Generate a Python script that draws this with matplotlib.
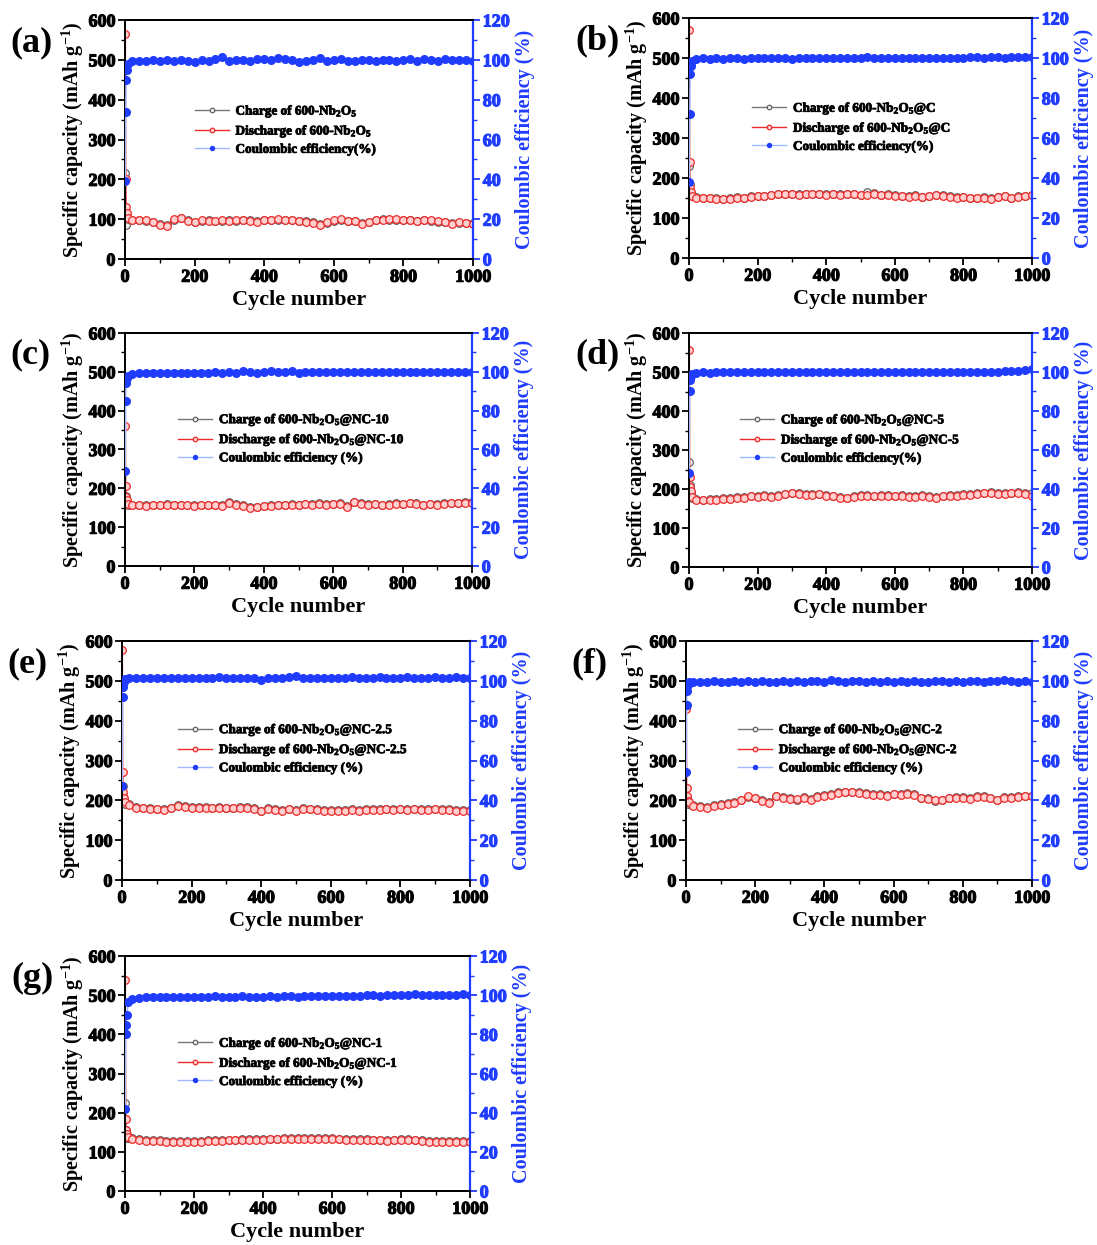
import matplotlib.pyplot as plt
import matplotlib.patheffects as pe
from matplotlib.ticker import MultipleLocator

plt.rcParams['font.family'] = ['Liberation Serif', 'DejaVu Serif']
plt.rcParams['font.weight'] = 'bold'
plt.rcParams['axes.labelweight'] = 'bold'
plt.rcParams['mathtext.fontset'] = 'custom'
plt.rcParams['mathtext.rm'] = 'Liberation Serif:bold'
plt.rcParams['mathtext.bf'] = 'Liberation Serif:bold'
plt.rcParams['mathtext.default'] = 'rm'

# cycle numbers at which values were sampled
cycles = [1, 2, 3, 5, 10] + list(range(20, 1001, 20))

# (a) 600-Nb2O5
dis_a = [565, 200, 130, 115, 102,
         99, 98, 97, 92, 86, 84, 100, 104, 96, 93,
         97, 96, 95, 97, 96, 97, 98, 96, 94, 99,
         98, 100, 99, 97, 96, 94, 91, 86, 92, 97,
         100, 95, 96, 89, 94, 98, 99, 100, 100, 99,
         98, 95, 98, 97, 95, 92, 89, 92, 91, 89]
chg_a = [215, 85, 110, 105, 100,
         98, 97, 96, 93, 87, 85, 99, 103, 97, 94,
         96, 97, 96, 96, 97, 96, 97, 97, 95, 98,
         99, 99, 98, 97, 95, 95, 92, 87, 91, 96,
         99, 96, 95, 90, 93, 97, 100, 99, 99, 98,
         97, 96, 97, 96, 94, 93, 90, 91, 90, 90]
ce_a = [39, 74, 90, 95, 98,
        99.2, 99.6, 99.4, 99.8, 99.5, 100.1, 99.3, 99.7, 99.6, 99.0,
        99.8, 99.5, 100.4, 101.2, 99.6, 99.8, 100.0, 99.4, 100.5, 100.6,
        99.7, 100.8, 100.3, 99.9, 99.1, 99.6, 99.8, 100.7, 99.3, 99.9,
        100.2, 99.6, 99.5, 99.8, 99.7, 99.6, 99.9, 99.7, 99.6, 100.1,
        100.4, 99.5, 100.6, 99.8, 99.6, 100.2, 99.7, 100.1, 99.8, 99.6]

# (b) 600-Nb2O5@C
dis_b = [570, 240, 175, 165, 155,
         151, 150, 149, 148, 147, 148, 151, 150, 153, 154,
         155, 157, 159, 160, 159, 158, 159, 160, 159, 158,
         159, 158, 160, 159, 157, 158, 161, 157, 158, 156,
         154, 153, 156, 152, 155, 157, 156, 153, 151, 152,
         149, 150, 151, 148, 152, 154, 150, 153, 155, 157]
chg_b = [230, 185, 170, 162, 154,
         152, 151, 150, 149, 148, 149, 152, 151, 154, 155,
         156, 158, 160, 161, 160, 159, 160, 161, 160, 159,
         160, 159, 161, 160, 158, 165, 162, 158, 159, 157,
         155, 154, 157, 153, 156, 158, 157, 154, 152, 153,
         150, 151, 152, 149, 153, 155, 151, 154, 156, 158]
ce_b = [38, 72, 92, 96, 98.5,
        99.6, 99.8, 99.7, 99.9, 99.6, 99.8, 100.0, 99.7, 99.9, 99.8,
        100.1, 99.8, 99.9, 100.0, 99.7, 99.9, 100.1, 99.8, 100.0, 99.9,
        100.2, 99.9, 100.0, 99.8, 100.1, 100.3, 99.9, 100.0, 99.8, 100.1,
        100.0, 99.9, 100.2, 100.0, 99.9, 100.1, 100.0, 100.2, 99.9, 100.1,
        100.3, 100.4, 100.2, 100.6, 100.3, 100.2, 100.4, 100.3, 100.5, 100.4]

# (c) 600-Nb2O5@NC-10
dis_c = [360, 205, 178, 170, 160,
         157, 156, 155, 156, 157, 158, 157, 156, 156, 155,
         156, 157, 156, 155, 163, 158, 155, 150, 152, 154,
         155, 157, 156, 158, 157, 159, 158, 160, 158, 159,
         160, 152, 164, 160, 158, 159, 157, 158, 160, 159,
         161, 160, 157, 159, 158, 160, 161, 162, 163, 163]
chg_c = [175, 180, 172, 167, 158,
         158, 157, 156, 157, 158, 159, 158, 157, 157, 156,
         157, 158, 157, 157, 164, 159, 156, 152, 153, 155,
         156, 158, 157, 159, 158, 160, 159, 161, 159, 160,
         161, 154, 165, 161, 159, 160, 158, 159, 161, 160,
         162, 161, 158, 160, 159, 161, 162, 163, 164, 164]
ce_c = [49, 85, 94, 97, 98.0,
        98.9, 99.3, 99.4, 99.5, 99.3, 99.6, 99.4, 99.5, 99.3, 99.6,
        99.5, 99.4, 99.7, 99.5, 99.8, 99.6, 100.3, 99.7, 99.5, 99.8,
        100.5, 99.9, 99.7, 100.2, 99.6, 99.8, 99.9, 100.1, 99.7, 99.9,
        100.0, 99.8, 100.1, 99.9, 99.7, 100.0, 99.9, 100.1, 99.8, 100.0,
        99.9, 100.1, 99.9, 100.0, 100.1, 99.9, 100.0, 100.1, 99.9, 100.0]

# (d) 600-Nb2O5@NC-5
dis_d = [556, 230, 205, 195, 180,
         173, 171, 172, 173, 174, 175, 177, 178, 181, 179,
         182, 180, 183, 186, 189, 187, 185, 184, 186, 183,
         181, 178, 176, 180, 182, 183, 181, 182, 183, 181,
         182, 180, 179, 182, 180, 178, 181, 182, 183, 184,
         185, 187, 189, 190, 187, 188, 189, 190, 187, 182]
chg_d = [270, 210, 198, 190, 178,
         175, 173, 174, 175, 176, 177, 179, 180, 183, 181,
         184, 182, 185, 188, 191, 189, 187, 186, 188, 185,
         183, 180, 178, 182, 184, 185, 183, 184, 185, 183,
         184, 182, 181, 184, 182, 180, 183, 184, 185, 186,
         187, 189, 191, 192, 189, 190, 191, 192, 190, 191]
ce_d = [48, 90, 96, 98, 99.2,
        99.6, 99.8, 99.7, 99.9, 99.8, 100.0, 99.8, 99.9, 99.8, 100.0,
        99.9, 99.8, 100.0, 99.9, 99.8, 100.0, 99.9, 100.1, 99.9, 99.8,
        100.0, 99.9, 100.0, 99.8, 99.9, 100.0, 99.9, 99.8, 100.0, 99.9,
        100.0, 99.9, 99.8, 100.0, 99.9, 100.1, 99.9, 100.0, 99.9, 100.0,
        100.1, 99.9, 100.0, 100.2, 100.1, 100.3, 100.4, 100.6, 100.9, 101.3]

# (e) 600-Nb2O5@NC-2.5
dis_e = [577, 270, 220, 205, 195,
         188, 182, 180, 178, 177, 176, 180, 186, 184, 181,
         182, 181, 180, 181, 180, 180, 181, 181, 179, 172,
         178, 176, 174, 177, 173, 178, 177, 175, 174, 174,
         173, 174, 175, 174, 175, 176, 176, 177, 176, 177,
         176, 177, 176, 176, 177, 176, 175, 174, 174, 173]
chg_e = [270, 235, 210, 200, 192,
         190, 184, 182, 180, 179, 178, 182, 188, 186, 183,
         184, 183, 182, 183, 182, 182, 183, 183, 181, 174,
         180, 178, 176, 179, 175, 180, 179, 177, 176, 176,
         175, 176, 177, 176, 177, 178, 178, 179, 178, 179,
         178, 179, 178, 178, 179, 178, 177, 176, 176, 175]
ce_e = [47, 92, 97, 99.5, 100.8,
        101.2, 101.4, 101.3, 101.5, 101.4, 101.6, 101.5, 101.4, 101.6, 101.5,
        101.4, 101.6, 101.5, 101.7, 101.5, 101.6, 101.4, 101.5, 101.3, 100.4,
        101.5, 101.6, 101.5, 101.7, 102.4, 101.6, 101.5, 101.6, 101.4, 101.5,
        101.6, 101.5, 101.7, 101.6, 101.5, 101.6, 101.7, 101.5, 101.6, 101.5,
        101.7, 101.6, 101.5, 101.6, 101.7, 101.5, 101.6, 101.7, 101.6, 101.5]

# (f) 600-Nb2O5@NC-2
dis_f = [430, 232, 210, 198, 196,
         187, 184, 182, 186, 189, 191, 194, 200, 210, 205,
         198, 193, 212, 206, 203, 204, 206, 202, 208, 211,
         214, 219, 221, 220, 219, 216, 214, 213, 212, 215,
         214, 217, 213, 205, 203, 202, 200, 205, 207, 206,
         204, 208, 208, 205, 200, 206, 207, 209, 210, 210]
chg_f = [232, 205, 198, 192, 193,
         189, 186, 184, 188, 191, 193, 196, 202, 208, 207,
         200, 196, 210, 208, 205, 202, 208, 204, 210, 213,
         216, 220, 222, 222, 221, 218, 216, 215, 214, 217,
         216, 219, 215, 207, 205, 198, 202, 207, 209, 208,
         206, 210, 210, 207, 202, 208, 209, 211, 212, 211]
ce_f = [54, 88, 95, 98, 99.2,
        99.4, 99.6, 99.5, 99.7, 99.6, 99.5, 99.7, 99.6, 99.8, 99.6,
        99.7, 99.5, 99.6, 99.8, 99.6, 99.7, 99.6, 99.8, 99.7, 99.6,
        100.4, 99.7, 99.6, 99.8, 99.7, 99.6, 99.7, 99.5, 99.7, 99.6,
        99.8, 99.6, 99.7, 99.5, 99.6, 99.7, 99.8, 99.6, 99.7, 99.6,
        99.8, 99.7, 99.6, 99.8, 99.7, 100.2, 99.7, 99.6, 99.7, 99.6]

# (g) 600-Nb2O5@NC-1
dis_g = [540, 185, 155, 145, 138,
         134, 130, 128, 127, 127, 126, 125, 125, 125, 126,
         126, 127, 127, 128, 129, 129, 130, 130, 131, 131,
         132, 132, 133, 133, 134, 133, 134, 134, 133, 133,
         132, 131, 131, 130, 130, 129, 129, 128, 129, 130,
         130, 129, 128, 126, 125, 126, 126, 125, 125, 125]
chg_g = [225, 155, 140, 135, 136,
         136, 132, 130, 129, 129, 128, 127, 127, 127, 128,
         128, 129, 129, 130, 131, 131, 132, 132, 133, 133,
         134, 134, 135, 135, 136, 135, 136, 136, 135, 135,
         134, 133, 133, 132, 132, 131, 131, 130, 131, 132,
         132, 131, 130, 128, 127, 128, 128, 127, 127, 127]
ce_g = [42, 80, 85, 90, 96.5,
        97.8, 98.6, 99.0, 99.1, 99.2, 99.3, 99.2, 99.3, 99.2, 99.3,
        99.3, 99.2, 99.4, 99.3, 99.2, 99.3, 99.4, 99.3, 99.2, 99.3,
        99.4, 99.3, 99.5, 99.4, 99.3, 99.4, 99.5, 99.6, 99.5, 99.6,
        99.7, 99.6, 99.8, 99.7, 99.9, 100.0, 99.8, 100.1, 100.0, 99.9,
        100.2, 100.4, 100.1, 100.0, 100.2, 100.1, 100.3, 100.2, 100.4, 100.3]

names = [r'600-Nb$_2$O$_5$', r'600-Nb$_2$O$_5$@C', r'600-Nb$_2$O$_5$@NC-10',
         r'600-Nb$_2$O$_5$@NC-5', r'600-Nb$_2$O$_5$@NC-2.5',
         r'600-Nb$_2$O$_5$@NC-2', r'600-Nb$_2$O$_5$@NC-1']
ce_labels = ['Coulombic efficiency(%)', 'Coulombic efficiency(%)',
             'Coulombic efficiency (%)', 'Coulombic efficiency(%)',
             'Coulombic efficiency (%)', 'Coulombic efficiency (%)',
             'Coulombic efficiency (%)']
tags = ['(a)', '(b)', '(c)', '(d)', '(e)', '(f)', '(g)']
discharge = [dis_a, dis_b, dis_c, dis_d, dis_e, dis_f, dis_g]
charge = [chg_a, chg_b, chg_c, chg_d, chg_e, chg_f, chg_g]
efficiency = [ce_a, ce_b, ce_c, ce_d, ce_e, ce_f, ce_g]

W, H = 1097, 1245
# axes boxes in pixels: left, right, top, bottom
boxes = [(125, 473, 20, 259), (689, 1032, 18, 258),
         (125, 472, 333, 566), (689, 1032, 333, 567),
         (122, 470, 641, 880), (686, 1032, 641, 880),
         (125, 470, 956, 1191)]
legend_xy = [(0.20, 0.65), (0.184, 0.655), (0.153, 0.66), (0.149, 0.66),
             (0.161, 0.66), (0.150, 0.66), (0.154, 0.66)]

BLUE = '#1f3cff'
RED = '#ee2b2b'
BOLD = dict(fontweight='bold')


def thicken(txt, color, lw):
    # heavier strokes for small print
    txt.set_path_effects([pe.withStroke(linewidth=lw, foreground=color)])


fig = plt.figure(figsize=(W / 100, H / 100), dpi=100)

for i in range(7):
    l, r, t, b = boxes[i]
    ax = fig.add_axes([l / W, 1 - b / H, (r - l) / W, (b - t) / H])
    ax2 = ax.twinx()

    h1, = ax.plot(cycles, charge[i], '-o', color='#777777', lw=1.0, ms=5.5,
                  mfc='#eeeeee', mec='#555555', mew=0.8,
                  label='Charge of ' + names[i])
    h2, = ax.plot(cycles, discharge[i], '-o', color=RED, lw=1.0, ms=5.5,
                  mfc='#ffd0d0', mec=RED, mew=0.9,
                  label='Discharge of ' + names[i])
    h3, = ax2.plot(cycles, efficiency[i], '-o', color='#9db8ff', lw=1.0,
                   ms=6.5, mfc=BLUE, mec=BLUE, mew=0,
                   label=ce_labels[i])

    ax.set_xlim(0, 1000)
    ax.set_ylim(0, 600)
    ax2.set_ylim(0, 120)
    ax.xaxis.set_major_locator(MultipleLocator(200))
    ax.xaxis.set_minor_locator(MultipleLocator(100))
    ax.yaxis.set_major_locator(MultipleLocator(100))
    ax.yaxis.set_minor_locator(MultipleLocator(50))
    ax2.yaxis.set_major_locator(MultipleLocator(20))
    ax2.yaxis.set_minor_locator(MultipleLocator(10))

    for s in ax.spines.values():
        s.set_linewidth(1.4)
    ax2.spines['right'].set_color(BLUE)
    ax2.spines['right'].set_linewidth(1.6)
    ax2.spines['left'].set_visible(False)
    ax2.spines['top'].set_linewidth(1.4)
    ax2.spines['bottom'].set_linewidth(1.4)

    ax.tick_params(which='major', length=5, width=1.3, labelsize=13, pad=2)
    ax.tick_params(which='minor', length=3, width=1.0)
    ax2.tick_params(which='major', length=5, width=1.3, labelsize=13,
                    colors=BLUE, pad=2)
    ax2.tick_params(which='minor', length=3, width=1.0, colors=BLUE)

    ax.set_xlabel('Cycle number', fontsize=16, labelpad=3, **BOLD)
    ax.set_ylabel(r'Specific capacity (mAh g$^{-1}$)', fontsize=14.5,
                  labelpad=2, **BOLD)
    ax2.set_ylabel('Coulombic efficiency (%)', fontsize=14.5, color=BLUE,
                   labelpad=4, **BOLD)

    leg = ax2.legend(handles=[h1, h2, h3], loc='upper left',
                     bbox_to_anchor=legend_xy[i], frameon=False,
                     prop=dict(size=9.5, weight='bold'), markerscale=0.6,
                     handlelength=2.6, handletextpad=0.5, labelspacing=0.3,
                     borderpad=0, borderaxespad=0)
    for txt in leg.get_texts():
        thicken(txt, '#111111', 0.6)

    ax.text(-0.33, 0.905, tags[i], transform=ax.transAxes, fontsize=26,
            ha='left', va='center', **BOLD)

    fig.canvas.draw()
    for lab in ax.get_xticklabels() + ax.get_yticklabels():
        lab.set_fontweight('bold')
        thicken(lab, 'black', 0.8)
    for lab in ax2.get_yticklabels():
        lab.set_fontweight('bold')
        thicken(lab, BLUE, 0.8)

fig.savefig('out.png', dpi=100)
